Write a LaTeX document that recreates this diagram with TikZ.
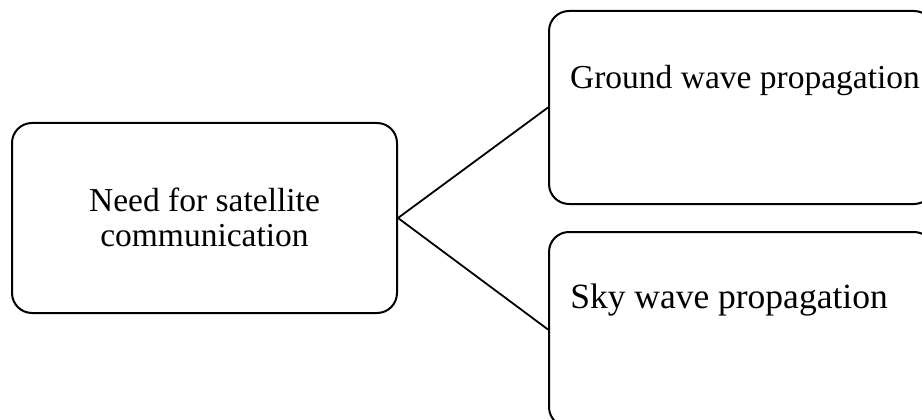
\documentclass[tikz,border=0pt]{standalone}
\usepackage{fontspec}
\setmainfont{Liberation Serif}
\begin{document}
\begin{tikzpicture}[x=1pt,y=-1pt,
  box/.style={draw=black, line width=2pt, rounded corners=20pt, rectangle,
    minimum width=385pt, inner sep=0pt},
  label/.style={font=\fontsize{33.5}{35}\selectfont, align=center, inner sep=0pt},
  link/.style={draw=black, line width=1.8pt}]
  \clip (0,0) rectangle (922,420);
  \fill[white] (0,0) rectangle (922,420);
  % root box
  \node[box, minimum height=190pt] (need) at (204.5,218) {};
  \node[label] (needtext) at (204.5,217) {Need for satellite\\communication};
  % the two propagation boxes
  \node[box, minimum height=193pt] (ground) at (741.5,107.5) {};
  \node[label] (groundtext) at (745,80) {Ground wave propagation};
  \node[box, minimum height=195pt] (sky) at (741.5,329.5) {};
  \node[label, font=\fontsize{35.5}{37}\selectfont] (skytext) at (729,300) {Sky wave propagation};
  % connectors
  \draw[link] (need.east) -- (ground.west);
  \draw[link] (need.east) -- (sky.west);
\end{tikzpicture}
\end{document}
